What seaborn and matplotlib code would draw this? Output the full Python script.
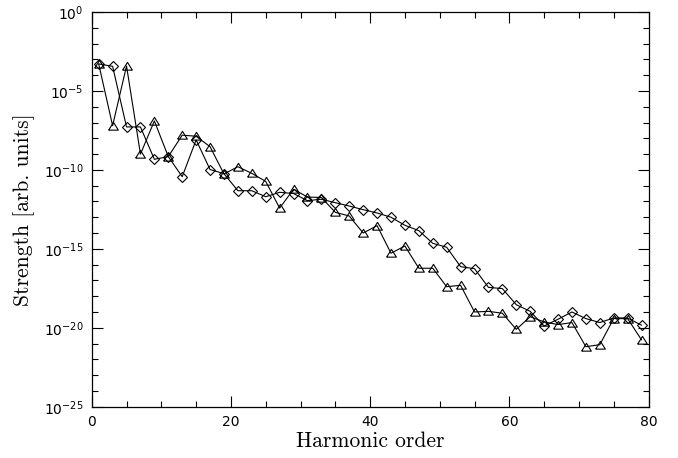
import numpy as np
import pandas as pd
import matplotlib
matplotlib.use("Agg")
import matplotlib.pyplot as plt
import matplotlib.ticker as mticker
import seaborn as sns

# Harmonic orders (odd harmonics)
harmonics = [1, 3, 5, 7, 9, 11, 13, 15, 17, 19, 21, 23, 25, 27, 29, 31, 33, 35, 37, 39,
             41, 43, 45, 47, 49, 51, 53, 55, 57, 59, 61, 63, 65, 67, 69, 71, 73, 75, 77, 79]

# log10 of strength, diamond series
diamond_exp = [-3.29, -3.44, -7.28, -7.28, -9.33, -9.16, -10.43, -8.10, -9.98, -10.24,
               -11.32, -11.32, -11.70, -11.42, -11.50, -11.95, -11.86, -12.08, -12.29, -12.52,
               -12.73, -13.00, -13.51, -13.85, -14.65, -14.90, -16.13, -16.26, -17.44, -17.52,
               -18.54, -18.96, -19.89, -19.46, -19.00, -19.42, -19.67, -19.38, -19.38, -19.84]

# log10 of strength, triangle series
triangle_exp = [-3.29, -7.20, -3.42, -9.00, -6.90, -9.16, -7.80, -7.87, -8.53, -10.26,
                -9.80, -10.22, -10.73, -12.42, -11.23, -11.72, -11.75, -12.69, -12.92, -14.00,
                -13.53, -15.28, -14.82, -16.23, -16.23, -17.40, -17.31, -19.00, -18.96, -19.08,
                -20.10, -19.30, -19.63, -19.80, -19.67, -21.20, -21.07, -19.42, -19.42, -20.77]

df_d = pd.DataFrame({"order": harmonics, "strength": 10.0 ** np.array(diamond_exp)})
df_t = pd.DataFrame({"order": harmonics, "strength": 10.0 ** np.array(triangle_exp)})

sns.set_theme(style="ticks")
plt.rcParams["font.family"] = ["DejaVu Sans"]
plt.rcParams["axes.unicode_minus"] = False
plt.rcParams["text.color"] = "black"
plt.rcParams["axes.labelcolor"] = "black"

fig = plt.figure(figsize=(6.78, 4.58), dpi=100)
ax = fig.add_axes([0.1353, 0.112, 0.8212, 0.8618])

tri_marker = [(-1, -0.75), (1, -0.75), (0, 0.85), (-1, -0.75)]

sns.lineplot(data=df_d, x="order", y="strength", ax=ax, color="black", lw=0.8,
             marker="D", markersize=4.6, markerfacecolor="none", markeredgecolor="black",
             markeredgewidth=0.8, sort=False, estimator=None)
sns.lineplot(data=df_t, x="order", y="strength", ax=ax, color="black", lw=0.8,
             marker=tri_marker, markersize=7, markerfacecolor="none", markeredgecolor="black",
             markeredgewidth=0.8, sort=False, estimator=None)

ax.set_yscale("log")
ax.set_xlim(0, 80)
ax.set_ylim(1e-25, 1e0)

ax.xaxis.set_major_locator(mticker.MultipleLocator(20))
ax.xaxis.set_minor_locator(mticker.MultipleLocator(5))
ax.xaxis.set_major_formatter(mticker.FormatStrFormatter("%d"))

major_y = [10.0 ** k for k in range(-25, 1, 5)]
minor_y = [10.0 ** k for k in range(-25, 1) if k % 5 != 0]
ax.yaxis.set_major_locator(mticker.FixedLocator(major_y))
ax.yaxis.set_minor_locator(mticker.FixedLocator(minor_y))
ax.yaxis.set_major_formatter(mticker.LogFormatterMathtext())
ax.yaxis.set_minor_formatter(mticker.NullFormatter())

ax.tick_params(which="both", direction="in", top=True, right=True, color="black",
               width=0.8, labelsize=10, labelcolor="black")
ax.tick_params(which="major", length=8, pad=6)
ax.tick_params(which="minor", length=4)

for s in ax.spines.values():
    s.set_color("black")
    s.set_linewidth(0.9)

ax.set_xlabel("Harmonic order", family=["cmr10", "DejaVu Serif"], fontsize=15.5,
              labelpad=2, color="black")
ax.set_ylabel("Strength [arb. units]", family=["cmr10", "DejaVu Serif"], fontsize=15.5,
              labelpad=6, color="black")

fig.savefig("out.png", dpi=100, facecolor="white")
